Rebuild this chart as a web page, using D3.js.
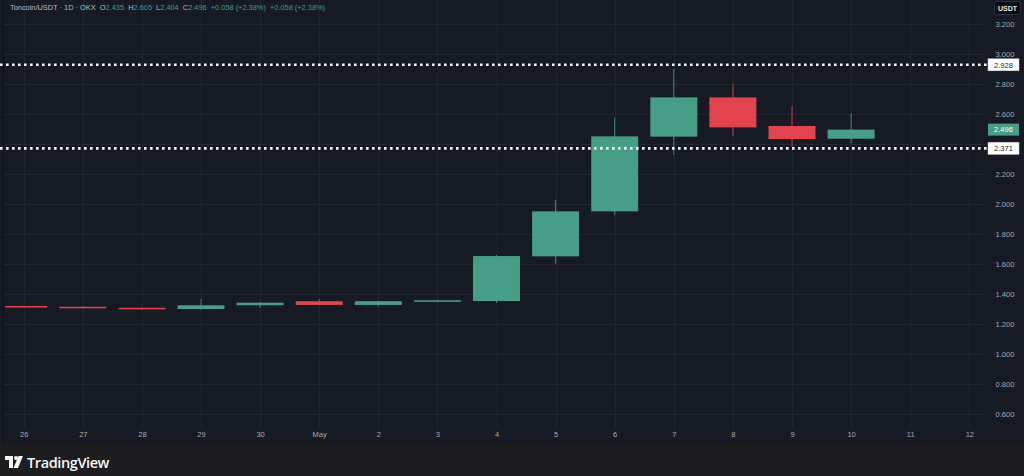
<!DOCTYPE html>
<html>
<head>
<meta charset="utf-8">
<script src="https://cdn.jsdelivr.net/npm/d3@7"></script>
<style>
  html, body { margin: 0; padding: 0; background: #1c1c1e; }
  svg { display: block; }
</style>
</head>
<body>
<svg id="chart" width="1024" height="476"></svg>
<script>
// ---- data ----
const dayLabels = ["26", "27", "28", "29", "30", "May", "2", "3", "4", "5", "6", "7", "8", "9", "10", "11", "12"];
const opens  = [1.320, 1.315, 1.308, 1.300, 1.325, 1.352, 1.327, 1.350, 1.353, 1.651, 1.951, 2.449, 2.711, 2.520, 2.435];
const highs  = [1.323, 1.318, 1.310, 1.367, 1.347, 1.367, 1.356, 1.360, 1.660, 2.027, 2.575, 2.900, 2.802, 2.653, 2.605];
const lows   = [1.316, 1.303, 1.293, 1.295, 1.307, 1.325, 1.318, 1.348, 1.340, 1.602, 1.925, 2.327, 2.455, 2.382, 2.404];
const closes = [1.318, 1.305, 1.300, 1.325, 1.342, 1.327, 1.352, 1.358, 1.653, 1.951, 2.451, 2.711, 2.511, 2.433, 2.496];
const priceTicks = [0.6, 0.8, 1.0, 1.2, 1.4, 1.6, 1.8, 2.0, 2.2, 2.4, 2.6, 2.8, 3.0, 3.2];
const levelLines = [2.928, 2.371];
const lastPrice = 2.496;
const titleParts = [
  {t: "Toncoin/USDT · 1D · OKX", c: "gray"},
  {t: "  O", c: "gray"}, {t: "2.435", c: "green"},
  {t: "  H", c: "gray"}, {t: "2.605", c: "green"},
  {t: "  L", c: "gray"}, {t: "2.404", c: "green"},
  {t: "  C", c: "gray"}, {t: "2.496", c: "green"},
  {t: "  +0.058 (+2.38%)", c: "green"},
  {t: "  +0.058 (+2.38%)", c: "green"}
];

// ---- style ----
const BG = "#161a25";
const GRID = "#212532";
const GREEN = "#479e86";
const RED = "#e2434c";
const TXT = "#a7aab3";
const FONT = "'Liberation Sans', Arial, sans-serif";

const W = 1024, H = 476;
const plotL = 4, plotR = 985, plotT = 0, plotB = 428, axisB = 444;

const svg = d3.select("#chart");
svg.style("font-family", FONT);

svg.append("defs").append("clipPath").attr("id", "plotClip")
  .append("rect").attr("x", plotL + 1).attr("y", plotT).attr("width", plotR - plotL - 1).attr("height", plotB - plotT);

// backgrounds
svg.append("rect").attr("x", 0).attr("y", 0).attr("width", W).attr("height", H).attr("fill", "#1d1d1f");
svg.append("rect").attr("x", 0).attr("y", 0).attr("width", W).attr("height", axisB).attr("fill", BG);
svg.append("line").attr("x1", 3.5).attr("x2", 3.5).attr("y1", 0).attr("y2", axisB)
  .attr("stroke", "#0e1017").attr("stroke-width", 1);

// scales
const x = d3.scaleLinear().domain([0, dayLabels.length - 1]).range([23.7, 969.3]);
const y = d3.scaleLinear().domain([1, 3]).range([354, 54]);
const step = x(1) - x(0);
const bodyW = step * 0.795;

// grid
const grid = svg.append("g");
grid.selectAll("line.h").data(priceTicks).join("line")
  .attr("x1", plotL).attr("x2", plotR)
  .attr("y1", d => Math.round(y(d)) + 0.5).attr("y2", d => Math.round(y(d)) + 0.5)
  .attr("stroke", GRID).attr("stroke-width", 1);
grid.selectAll("line.v").data(d3.range(dayLabels.length)).join("line")
  .attr("x1", d => Math.round(x(d)) + 0.5).attr("x2", d => Math.round(x(d)) + 0.5)
  .attr("y1", plotT).attr("y2", plotB)
  .attr("stroke", GRID).attr("stroke-width", 1);

// candles
const candles = opens.map((o, i) => ({i, o, h: highs[i], l: lows[i], c: closes[i]}));
const cg = svg.append("g").attr("clip-path", "url(#plotClip)");
cg.selectAll("line.wick").data(candles).join("line")
  .attr("x1", d => x(d.i)).attr("x2", d => x(d.i))
  .attr("y1", d => y(d.h)).attr("y2", d => y(d.l))
  .attr("stroke", d => d.c >= d.o ? GREEN : RED).attr("stroke-width", 1)
  .attr("opacity", 0.85);
cg.selectAll("rect.body").data(candles).join("rect")
  .attr("x", d => x(d.i) - bodyW / 2)
  .attr("width", bodyW)
  .attr("y", d => y(Math.max(d.o, d.c)))
  .attr("height", d => Math.max(1.5, Math.abs(y(d.o) - y(d.c))))
  .attr("fill", d => d.c >= d.o ? GREEN : RED);

// dotted level lines
svg.append("g").selectAll("line").data(levelLines).join("line")
  .attr("x1", 0).attr("x2", plotR + 2)
  .attr("y1", d => y(d)).attr("y2", d => y(d))
  .attr("stroke", "#f2f2f2").attr("stroke-width", 2.6)
  .attr("stroke-dasharray", "2.6,3.4");

// price axis
const yAxis = d3.axisRight(y).tickValues(priceTicks).tickFormat(d3.format(".3f")).tickSize(0).tickPadding(0);
const yg = svg.append("g").attr("transform", `translate(${plotR + 6},0)`).call(yAxis);
yg.select(".domain").remove();
yg.selectAll("text").attr("fill", TXT).attr("font-size", 7.5).attr("font-family", FONT)
  .attr("x", 1005 - plotR - 6).attr("text-anchor", "middle");

// level labels (white)
const lbl = svg.append("g");
levelLines.forEach(v => {
  lbl.append("rect").attr("x", 988).attr("y", y(v) - 6).attr("width", 31).attr("height", 12)
    .attr("fill", "#ffffff").attr("stroke", "#cfcfcf").attr("stroke-width", 0.5);
  lbl.append("text").attr("x", 1003.5).attr("y", y(v) + 2.7).attr("text-anchor", "middle")
    .attr("font-size", 7.5).attr("fill", "#1a1a1a").text(d3.format(".3f")(v));
});
lbl.append("rect").attr("x", 988).attr("y", y(lastPrice) - 6).attr("width", 31).attr("height", 12)
  .attr("fill", GREEN);
lbl.append("text").attr("x", 1003.5).attr("y", y(lastPrice) + 2.7).attr("text-anchor", "middle")
  .attr("font-size", 7.5).attr("fill", "#ffffff").text(d3.format(".3f")(lastPrice));

// currency box
svg.append("rect").attr("x", 994.5).attr("y", 1.5).attr("width", 26).attr("height", 13).attr("rx", 2)
  .attr("fill", "#0c0e14").attr("stroke", "#2e3240");
svg.append("text").attr("x", 1007.5).attr("y", 11).attr("text-anchor", "middle")
  .attr("font-size", 7).attr("font-weight", "bold").attr("fill", "#e6e6e6").text("USDT");

// x axis
const xAxis = d3.axisBottom(x).tickValues(d3.range(dayLabels.length)).tickFormat(i => dayLabels[i]).tickSize(0).tickPadding(0);
const xg = svg.append("g").attr("transform", `translate(0,${437})`).call(xAxis);
xg.select(".domain").remove();
xg.selectAll("text").attr("fill", TXT).attr("font-size", 7.5).attr("font-family", FONT).attr("dy", 0);

// title
const title = svg.append("text").attr("x", 10).attr("y", 10).attr("font-size", 7.4);
titleParts.forEach(p => {
  title.append("tspan").attr("fill", p.c === "green" ? "#3fa08a" : "#b7bac2")
    .attr("xml:space", "preserve").style("white-space", "pre").text(p.t);
});

// TradingView logo
const logo = svg.append("g").attr("transform", "translate(5,456)");
logo.append("path").attr("d", "M0,0 H8 V12 H4 V4 H0 Z").attr("fill", "#f5f5f5");
logo.append("circle").attr("cx", 11).attr("cy", 2).attr("r", 2).attr("fill", "#f5f5f5");
logo.append("path").attr("d", "M13.5,0 H18 L13,12 H8.5 Z").attr("fill", "#f5f5f5");
svg.append("text").attr("x", 27).attr("y", 467.5).attr("font-size", 14.5).attr("font-weight", 600).attr("fill", "#f5f5f5")
  .attr("font-family", "'Open Sans', 'Liberation Sans', sans-serif").attr("letter-spacing", -0.4).text("TradingView");
</script>
</body>
</html>
